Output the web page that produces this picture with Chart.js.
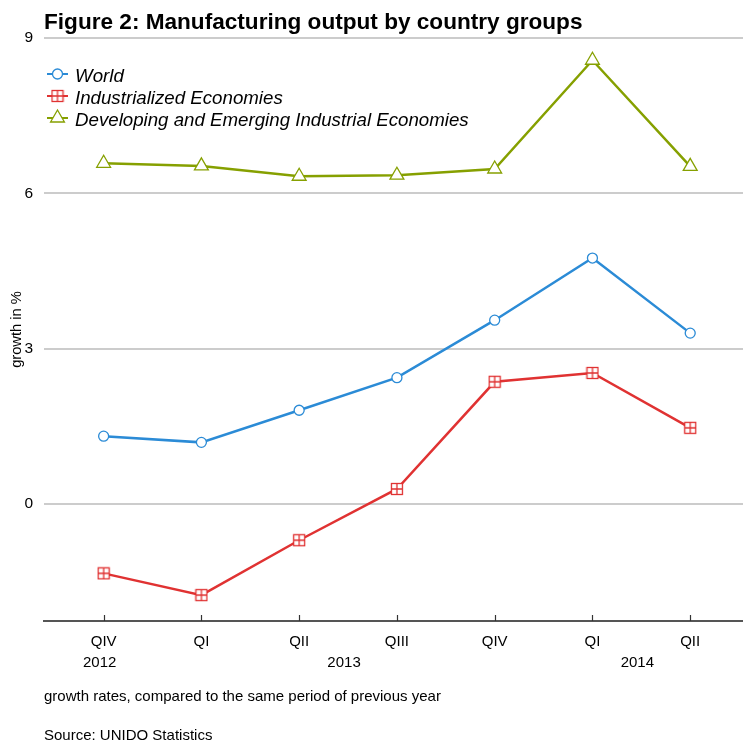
<!DOCTYPE html>
<html>
<head>
<meta charset="utf-8">
<script src="https://cdn.jsdelivr.net/npm/chart.js@4/dist/chart.umd.min.js"></script>
<style>
  body { margin: 0; background: #fff; }
</style>
</head>
<body>
<canvas id="mfg" width="743" height="742"></canvas>
<script>
const quarters = ['QIV', 'QI', 'QII', 'QIII', 'QIV', 'QI', 'QII'];
const years = ['2012', '2013', '2014'];
const yearGroups = [[0, 0], [1, 4], [5, 6]]; // first / last quarter index of each year
const yTicks = [0, 3, 6, 9];

const world = [1.31, 1.19, 1.81, 2.44, 3.55, 4.75, 3.30];
const industrialized = [-1.34, -1.76, -0.70, 0.29, 2.36, 2.53, 1.47];
const developing = [6.58, 6.53, 6.33, 6.35, 6.47, 8.57, 6.52];

const FONT = "'Liberation Sans', Arial, sans-serif";
const BLUE = '#2b8bd6', RED = '#e03232', OLIVE = '#86a000';

// square with a cross inside (industrialized marker)
function gridSquare(color) {
  const c = document.createElement('canvas');
  c.width = 14; c.height = 14;
  const g = c.getContext('2d');
  g.fillStyle = '#fff';
  g.fillRect(1.5, 1.5, 11, 11);
  g.strokeStyle = color;
  g.lineWidth = 1.3;
  g.strokeRect(1.5, 1.5, 11, 11);
  g.beginPath();
  g.moveTo(7, 1.5); g.lineTo(7, 12.5);
  g.moveTo(1.5, 7); g.lineTo(12.5, 7);
  g.stroke();
  return c;
}
const sqMarker = gridSquare(RED);

function toXY(arr) {
  return arr.map((v, i) => ({ x: i, y: v }));
}

const series = [
  { label: 'World', data: world, color: BLUE, style: 'circle', radius: 5 },
  { label: 'Industrialized Economies', data: industrialized, color: RED, style: sqMarker, radius: 7 },
  { label: 'Developing and Emerging Industrial Economies', data: developing, color: OLIVE, style: 'triangle', radius: 8 }
];

const datasets = series.map(s => ({
  label: s.label,
  data: toXY(s.data),
  borderColor: s.color,
  backgroundColor: '#fff',
  borderWidth: 2.5,
  pointStyle: s.style,
  pointRadius: s.radius,
  pointBorderWidth: 1.3,
  pointBackgroundColor: '#fff',
  pointBorderColor: s.color,
  tension: 0
}));

// titles, legend, year labels, upward tick marks, footnotes
const decorations = {
  id: 'decorations',
  afterDraw(chart) {
    const ctx = chart.ctx;
    const xs = chart.scales.x;
    const area = chart.chartArea;
    ctx.save();

    // ticks pointing up from the axis line
    ctx.strokeStyle = '#333';
    ctx.lineWidth = 1.2;
    quarters.forEach((q, i) => {
      const px = Math.round(xs.getPixelForValue(i)) + 0.5;
      ctx.beginPath();
      ctx.moveTo(px, area.bottom);
      ctx.lineTo(px, area.bottom - 6);
      ctx.stroke();
    });

    ctx.fillStyle = '#000';
    ctx.textBaseline = 'alphabetic';

    // title
    ctx.font = 'bold 22.6px ' + FONT;
    ctx.textAlign = 'left';
    ctx.fillText('Figure 2: Manufacturing output by country groups', 44, 29);

    // year group labels
    ctx.font = '15px ' + FONT;
    ctx.textAlign = 'center';
    years.forEach((y, k) => {
      const mid = (yearGroups[k][0] + yearGroups[k][1]) / 2;
      ctx.fillText(y, xs.getPixelForValue(mid) - 4, 667);
    });

    // y axis title
    ctx.save();
    ctx.translate(21, (area.top + area.bottom) / 2);
    ctx.rotate(-Math.PI / 2);
    ctx.font = '14.7px ' + FONT;
    ctx.textAlign = 'center';
    ctx.fillText('growth in %', 0, 0);
    ctx.restore();

    // footnotes
    ctx.font = '15px ' + FONT;
    ctx.textAlign = 'left';
    ctx.fillText('growth rates, compared to the same period of previous year', 44, 701);
    ctx.fillText('Source: UNIDO Statistics', 44, 740);

    // legend
    const rows = [76, 98, 120];
    chart.data.datasets.forEach((ds, i) => {
      const y = rows[i];
      ctx.strokeStyle = ds.borderColor;
      ctx.lineWidth = 2;
      ctx.beginPath();
      ctx.moveTo(47, y - 2);
      ctx.lineTo(68, y - 2);
      ctx.stroke();
      ctx.fillStyle = '#fff';
      ctx.lineWidth = 1.3;
      Chart.helpers.drawPoint(ctx, {
        pointStyle: ds.pointStyle,
        radius: ds.pointRadius,
        borderWidth: 1.3,
        rotation: 0
      }, 57.5, y - 2);
      ctx.fillStyle = '#000';
      ctx.textAlign = 'left';
      ctx.font = 'italic 18.7px ' + FONT;
      ctx.fillText(ds.label, 75, y + 6);
    });

    ctx.restore();
  }
};

new Chart(document.getElementById('mfg'), {
  type: 'line',
  data: { datasets: datasets },
  options: {
    responsive: false,
    animation: false,
    layout: { autoPadding: false, padding: { top: 38, right: 0, bottom: 0, left: 0 } },
    scales: {
      x: {
        type: 'linear',
        min: -0.61,
        max: 6.54,
        afterBuildTicks: s => { s.ticks = quarters.map((q, i) => ({ value: i })); },
        afterFit: s => { s.height = 121; },
        ticks: {
          callback: v => quarters[v],
          font: { size: 15, family: FONT },
          color: '#000',
          padding: 12,
          maxRotation: 0,
          autoSkip: false
        },
        grid: { display: false, drawTicks: false },
        border: { display: true, color: '#555', width: 2 }
      },
      y: {
        min: -2.26,
        max: 9,
        afterBuildTicks: s => { s.ticks = yTicks.map(v => ({ value: v })); },
        afterFit: s => { s.width = 44; },
        ticks: {
          font: { size: 15.5, family: FONT },
          color: '#000',
          padding: 11
        },
        grid: { color: '#cccccc', lineWidth: 2, drawTicks: false },
        border: { display: false }
      }
    },
    plugins: {
      legend: { display: false },
      title: { display: false },
      tooltip: { enabled: false }
    }
  },
  plugins: [decorations]
});
</script>
</body>
</html>
